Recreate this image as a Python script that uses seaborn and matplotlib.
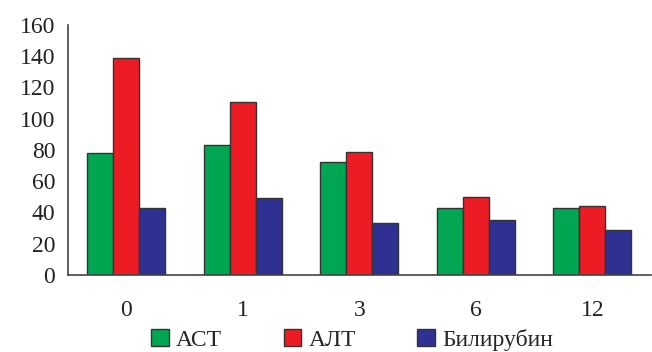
import numpy as np
import pandas as pd
import matplotlib
matplotlib.use("Agg")
import matplotlib.pyplot as plt
import seaborn as sns

# Данные с графика
months = ["0", "1", "3", "6", "12"]
ast = [78, 83, 72, 43, 43]
alt = [139, 111, 79, 50, 44]
bili = [43, 49, 33, 35, 29]
series = ["АСТ", "АЛТ", "Билирубин"]
colors = ["#00A651", "#ED1C24", "#2E3192"]

df = pd.DataFrame({
    "month": months * 3,
    "value": ast + alt + bili,
    "series": [series[0]] * 5 + [series[1]] * 5 + [series[2]] * 5,
})

sns.set_style("white")
plt.rcParams["font.family"] = ["Liberation Serif", "DejaVu Serif"]

fig = plt.figure(figsize=(6.52, 3.52), dpi=100)
ax = fig.add_axes([0.104, 0.219, 0.894, 0.71])

sns.barplot(data=df, x="month", y="value", hue="series", order=months,
            hue_order=series, palette=colors, width=0.67, saturation=1,
            edgecolor="#333333", linewidth=1.0, ax=ax, legend=False)

ax.set_ylim(0, 160)
ax.set_yticks(np.arange(0, 161, 20))
ax.set_xlim(-0.5, len(months) - 0.5)
ax.set_xticks(np.arange(-0.5, len(months), 1.0), minor=True)
ax.tick_params(axis="x", which="major", length=0, pad=18, labelsize=17)
ax.tick_params(axis="x", which="minor", length=6, width=1.2, color="#333333", direction="out")
ax.tick_params(axis="y", length=6, width=1.2, color="#333333", direction="out", labelsize=17, pad=3)
ax.tick_params(axis="both", colors="#333333", labelcolor="#222222")
ax.set_xlabel("")
ax.set_ylabel("")
sns.despine(ax=ax)
for s in ["left", "bottom"]:
    ax.spines[s].set_color("#444444")
    ax.spines[s].set_linewidth(1.2)

handles = [plt.Rectangle((0, 0), 1, 1, facecolor=c, edgecolor="#333333", linewidth=1.0)
           for c in colors]
fig.legend(handles, series, loc="center", bbox_to_anchor=(0.54, 0.035), ncol=3,
           frameon=False, fontsize=17, handlelength=0.75, handleheight=0.75,
           handletextpad=0.3, columnspacing=2.6, borderpad=0)

fig.savefig("out.png", dpi=100)
